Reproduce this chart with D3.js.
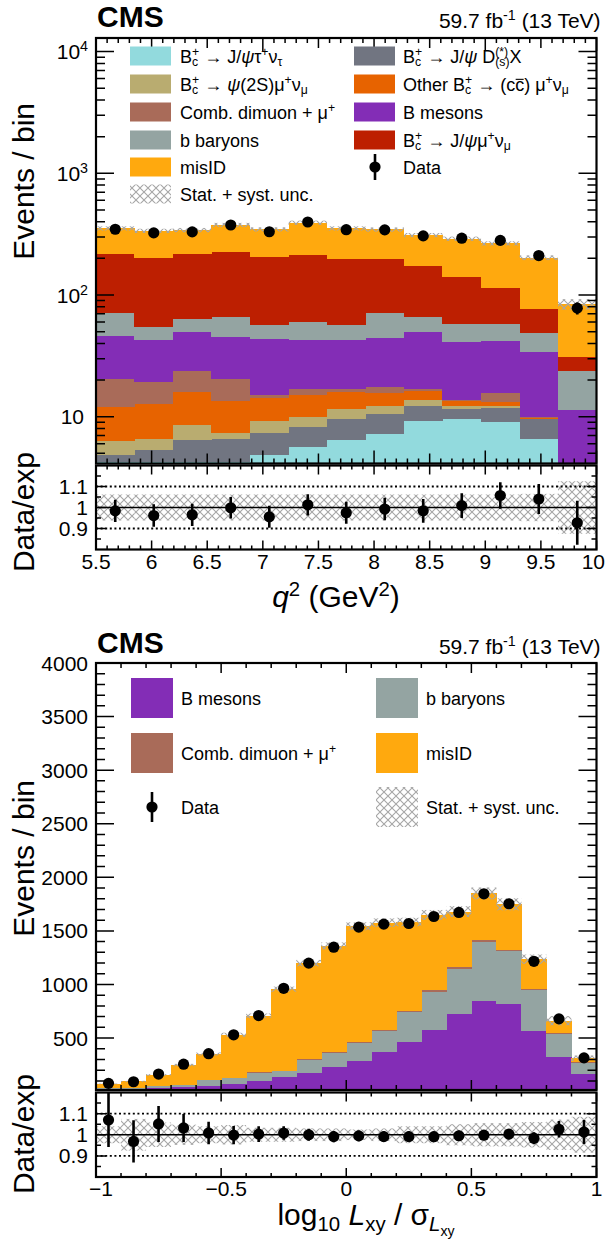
<!DOCTYPE html>
<html lang="en">
<head>
<meta charset="UTF-8">
<title>Bc fit projections</title>
<script src="https://d3js.org/d3.v7.min.js"></script>
<style>
  body { margin: 0; background: #fff; }
  svg { display: block; }
  text { font-family: "Liberation Sans", Arial, Helvetica, sans-serif; fill: #000; white-space: pre; }
</style>
</head>
<body>
<svg id="chart" width="606" height="1243"></svg>
<script>
// ---------- data: q^2 distribution (top) ----------
const q2Edges = [5.5, 5.846, 6.192, 6.538, 6.885, 7.231, 7.577, 7.923, 8.269, 8.615, 8.962, 9.308, 9.654, 10.0];
const q2Tau    = [4.22, 4.22, 4.22, 4.22, 4.84, 5.6, 6.45, 7.22, 9.22, 9.57, 9.0, 6.56, 0.9];
const q2Dsx    = [0.62, 1.10, 2.26, 2.38, 2.51, 2.68, 3.12, 3.38, 2.98, 2.03, 2.8, 2.94, 1.4];
const q2Psi2s  = [1.52, 1.28, 2.07, 0.79, 1.81, 1.60, 2.03, 1.60, 1.50, 0.70, 0.40, 0.05, 0.2];
const q2Other  = [5.64, 6.10, 7.55, 6.11, 5.14, 5.32, 4.50, 3.50, 2.60, 1.20, 1.10, 0.21, 0.3];
const q2Comb   = [8.4, 6.7, 7.7, 6.8, 0.8, 1.7, 0.8, 1.8, 0.6, 0.1, 2.5, 0.19, 0.6];
const q2Bmes   = [25.6, 23.3, 25.8, 24.9, 28.7, 26.1, 25.8, 27.1, 32.7, 27.7, 26.1, 24.05, 8.0];
const q2Bbar   = [25.6, 12.2, 14.3, 20.3, 12.6, 17.0, 14.0, 27.0, 16.3, 16.1, 15.9, 14.8, 12.4];
const q2Jpsimu = [145, 145, 153, 160, 149, 153, 141, 126, 108, 84, 56, 28, 7.3];
const q2Misid  = [136, 137, 125, 151, 141, 180, 155, 148, 137, 149, 152, 126, 53];
const q2Data    = [347, 324, 330, 376, 331, 398, 344, 343, 306, 293, 281, 211, 78];
const q2DataErr = [18.6, 18.0, 18.2, 19.4, 18.2, 19.9, 18.5, 18.5, 17.5, 17.1, 16.8, 14.5, 8.8];
const q2UncMain  = [0.04, 0.04, 0.04, 0.04, 0.04, 0.04, 0.04, 0.04, 0.04, 0.04, 0.04, 0.045, 0.10];
const q2UncRatio = [0.062, 0.062, 0.062, 0.062, 0.062, 0.062, 0.062, 0.062, 0.062, 0.062, 0.062, 0.065, 0.125];

// ---------- data: log10 Lxy/sigma distribution (bottom) ----------
const lxyEdges = [-1.0, -0.9, -0.8, -0.7, -0.6, -0.5, -0.4, -0.3, -0.2, -0.1, 0.0,
                  0.1, 0.2, 0.3, 0.4, 0.5, 0.6, 0.7, 0.8, 0.9, 1.0];
const lxyBmes  = [12, 25, 35, 44, 56, 75, 100, 134, 174, 230, 283, 367, 463, 575, 727, 848, 820, 562, 323, 168];
const lxyBbar  = [18, 10, 15, 15, 50, 50, 74, 56, 118, 134, 171, 198, 279, 357, 416, 552, 493, 388, 214, 99];
const lxyComb  = [1, 1, 1, 1, 3, 4, 6, 6, 8, 9, 9, 13, 13, 12, 18, 19, 10, 7, 7, 7];
const lxyMisid = [41, 59, 105, 188, 242, 402, 528, 760, 899, 987, 1080, 999, 828, 705, 519, 431, 425, 279, 118, 37];
const lxyData    = [77, 92, 164, 256, 354, 530, 710, 964, 1199, 1348, 1535, 1563, 1569, 1634, 1672, 1846, 1753, 1216, 679, 315];
const lxyDataErr = [9.2, 9.5, 13.3, 16.4, 18.8, 23, 26.6, 31, 34.6, 36.7, 39.2, 39.5, 39.6, 40.4, 40.9, 43, 41.9, 34.9, 26, 17.7];
const lxyUncMain  = [0.04, 0.06, 0.05, 0.045, 0.04, 0.035, 0.03, 0.025, 0.025, 0.024, 0.024, 0.025, 0.025, 0.028, 0.03, 0.03, 0.032, 0.035, 0.065, 0.085];
const lxyUncRatio = [0.04, 0.075, 0.058, 0.048, 0.04, 0.046, 0.033, 0.033, 0.03, 0.03, 0.025, 0.03, 0.04, 0.04, 0.05, 0.055, 0.055, 0.06, 0.072, 0.085];

const ratioTicks = [0.9, 1, 1.1];
const ratioMinor = [0.85, 0.95, 1.05, 1.15];
const lumiLabel = "59.7 fb";

// CMS palette
const colTau = "#92dadd", colDsx = "#717581", colPsi = "#b9ac70", colOther = "#e76300",
      colComb = "#a96b59", colBmes = "#832db6", colBbar = "#94a4a2", colJpsi = "#bd1f01", colMisid = "#ffa90e";

const svg = d3.select("#chart");
const FONT = '"Liberation Sans", Arial, Helvetica, sans-serif';
const W = 606;

// hatch used for the stat + syst band
svg.append("defs").append("pattern")
    .attr("id", "hatch").attr("width", 8).attr("height", 8)
    .attr("patternUnits", "userSpaceOnUse")
  .append("path")
    .attr("d", "M0,0 L8,8 M8,0 L0,8")
    .attr("stroke", "#a6a6a6").attr("stroke-width", 1.1);

// text measuring for super/subscripts
const mctx = document.createElement("canvas").getContext("2d");
function measure(s, size, italic, bold) {
    mctx.font = (italic ? "italic " : "") + (bold ? "bold " : "") + size + "px " + FONT;
    return mctx.measureText(s).width;
}

// parts: {t, lvl (1 sup, -1 sub, -2 subsub), it, stack (next part on same x), over}
function rich(g, x, y, parts, size, anchor) {
    const items = [];
    let cx = 0, stackX = null, stackW = 0;
    parts.forEach(p => {
        const lvl = p.lvl || 0;
        const s = lvl === 0 ? size : lvl === -2 ? size * 0.47 : size * 0.68;
        const dy = lvl === 1 ? -size * 0.38 : lvl === -1 ? size * 0.2 : lvl === -2 ? size * 0.36 : 0;
        const w = measure(p.t, s, p.it);
        if (stackX !== null) {
            items.push({ p, s, dy, x: stackX, w });
            cx = stackX + Math.max(stackW, w);
            stackX = null;
        } else if (p.stack) {
            items.push({ p, s, dy, x: cx, w });
            stackX = cx; stackW = w;
        } else {
            items.push({ p, s, dy, x: cx, w });
            cx += w;
        }
    });
    const off = anchor === "end" ? -cx : anchor === "middle" ? -cx / 2 : 0;
    const t = g.append("text").attr("font-size", size);
    items.forEach(it => {
        t.append("tspan")
            .attr("x", x + off + it.x).attr("y", y + it.dy)
            .attr("font-size", it.s)
            .attr("font-style", it.p.it ? "italic" : null)
            .text(it.p.t);
        if (it.p.over) {
            g.append("line")
                .attr("x1", x + off + it.x + 0.5).attr("x2", x + off + it.x + it.w - 0.5)
                .attr("y1", y - size * 0.62).attr("y2", y - size * 0.62)
                .attr("stroke", "#000").attr("stroke-width", 1.1);
        }
    });
    return cx;
}

const X0 = 96, X1 = 596.5;

function drawStack(g, x, y, edges, comps, floor) {
    const base = edges.slice(1).map(() => 0);
    comps.forEach(c => {
        const lo = base.slice();
        c.vals.forEach((v, i) => { base[i] += v; });
        const hi = base.slice();
        g.append("g").selectAll("rect").data(c.vals).join("rect")
            .attr("x", (d, i) => x(edges[i]))
            .attr("width", (d, i) => x(edges[i + 1]) - x(edges[i]) + 0.4)
            .attr("y", (d, i) => y(hi[i]))
            .attr("height", (d, i) => Math.max(0, y(Math.max(lo[i], floor)) - y(hi[i])))
            .attr("fill", c.color)
            .attr("shape-rendering", "crispEdges");
    });
    return base;
}

function drawBand(g, x, y, edges, centre, rel) {
    g.append("g").selectAll("rect").data(centre).join("rect")
        .attr("x", (d, i) => x(edges[i]))
        .attr("width", (d, i) => x(edges[i + 1]) - x(edges[i]))
        .attr("y", (d, i) => y(d * (1 + rel[i])))
        .attr("height", (d, i) => y(d * (1 - rel[i])) - y(d * (1 + rel[i])))
        .attr("fill", "url(#hatch)");
}

function drawPoints(g, xs, ys, errs, y) {
    g.append("g").selectAll("line").data(ys).join("line")
        .attr("x1", (d, i) => xs[i]).attr("x2", (d, i) => xs[i])
        .attr("y1", (d, i) => y(d + errs[i])).attr("y2", (d, i) => y(d - errs[i]))
        .attr("stroke", "#000").attr("stroke-width", 2.6);
    g.append("g").selectAll("circle").data(ys).join("circle")
        .attr("cx", (d, i) => xs[i]).attr("cy", d => y(d))
        .attr("r", 5.6).attr("fill", "#000");
}

function hTicks(g, x, vals, lenOf, yBot, yTop) {
    g.append("g").selectAll("path").data(vals).join("path")
        .attr("d", v => `M${x(v)},${yBot}V${yBot - lenOf(v)}M${x(v)},${yTop}V${yTop + lenOf(v)}`)
        .attr("stroke", "#000").attr("stroke-width", 1.5).attr("fill", "none");
}
function vTicks(g, y, vals, lenOf) {
    g.append("g").selectAll("path").data(vals).join("path")
        .attr("d", v => `M${X0},${y(v)}H${X0 + lenOf(v)}M${X1},${y(v)}H${X1 - lenOf(v)}`)
        .attr("stroke", "#000").attr("stroke-width", 1.5).attr("fill", "none");
}

function frame(g, yTop, yBot) {
    g.append("rect").attr("x", X0).attr("y", yTop).attr("width", X1 - X0).attr("height", yBot - yTop)
        .attr("fill", "none").attr("stroke", "#000").attr("stroke-width", 2.2);
}

// x tick labels, pulled in at the right edge so the last one stays on the page
function xLabels(g, x, vals, yBase) {
    vals.forEach(v => {
        const s = d3.format("")(v);
        const w = measure(s, 21);
        let cx = x(v) + (v < 0 ? 5 : 0);
        cx = Math.min(cx, W - 1 - w / 2);
        g.append("text").attr("x", cx).attr("y", yBase).attr("text-anchor", "middle")
            .attr("font-size", 21).text(s);
    });
}

function ratioPanel(g, x, rY, edges, rel, ratio, ratioErr, xTickVals, xLen, id) {
    g.append("clipPath").attr("id", id).append("rect")
        .attr("x", X0).attr("y", rY.range()[1]).attr("width", X1 - X0).attr("height", rY.range()[0] - rY.range()[1]);
    const inner = g.append("g").attr("clip-path", `url(#${id})`);
    drawBand(inner, x, rY, edges, edges.slice(1).map(() => 1), rel);
    inner.append("g").selectAll("line").data([0.9, 1.1]).join("line")
        .attr("x1", X0).attr("x2", X1).attr("y1", d => rY(d)).attr("y2", d => rY(d))
        .attr("stroke", "#000").attr("stroke-width", 1.8).attr("stroke-dasharray", "2,2.6");
    inner.append("line").attr("x1", X0).attr("x2", X1).attr("y1", rY(1)).attr("y2", rY(1))
        .attr("stroke", "#000").attr("stroke-width", 1.4);
    const centres = ratio.map((d, i) => x((edges[i] + edges[i + 1]) / 2));
    drawPoints(inner, centres, ratio, ratioErr, rY);
    frame(g, rY.range()[1], rY.range()[0]);
    vTicks(g, rY, ratioTicks, () => 10);
    vTicks(g, rY, ratioMinor, () => 5);
    hTicks(g, x, xTickVals, xLen, rY.range()[0], rY.range()[1]);
    ratioTicks.forEach(v => {
        g.append("text").attr("x", 88).attr("y", rY(v) + 7.5).attr("text-anchor", "end")
            .attr("font-size", 21).text(d3.format("")(v));
    });
}

function header(g, oy) {
    g.append("text").attr("x", 97).attr("y", 27 + oy).attr("font-size", 30)
        .attr("font-weight", "bold").text("CMS");
    rich(g, 601, 28 + oy, [{ t: lumiLabel }, { t: "-1", lvl: 1 }, { t: " (13 TeV)" }], 21, "end");
}

function yTitle(g, xBase, yEnd, label) {
    g.append("text").attr("transform", `translate(${xBase},${yEnd}) rotate(-90)`)
        .attr("text-anchor", "end").attr("font-size", 30).text(label);
}

function swatch(g, x, yc, w, h, fill) {
    g.append("rect").attr("x", x).attr("y", yc - h / 2).attr("width", w).attr("height", h).attr("fill", fill);
}
function legendDot(g, xc, yc, half) {
    g.append("line").attr("x1", xc).attr("x2", xc).attr("y1", yc - half).attr("y2", yc + half)
        .attr("stroke", "#000").attr("stroke-width", 2.6);
    g.append("circle").attr("cx", xc).attr("cy", yc).attr("r", 5.6).attr("fill", "#000");
}

const BcPlus = [{ t: "B" }, { t: "c", lvl: -1, stack: true }, { t: "+", lvl: 1 }];

// =================== top: q^2 ===================
{
    const g = svg.append("g");
    const x = d3.scaleLinear([5.5, 10], [X0, X1]);
    const y = d3.scaleLog([4.125, 12940], [463.5, 38]).clamp(true);
    const r = d3.scaleLinear([0.8, 1.2], [549.5, 465.5]);

    g.append("clipPath").attr("id", "clipA").append("rect")
        .attr("x", X0).attr("y", 38).attr("width", X1 - X0).attr("height", 463.5 - 38);
    const inner = g.append("g").attr("clip-path", "url(#clipA)");
    const total = drawStack(inner, x, y, q2Edges, [
        { vals: q2Tau, color: colTau }, { vals: q2Dsx, color: colDsx },
        { vals: q2Psi2s, color: colPsi }, { vals: q2Other, color: colOther },
        { vals: q2Comb, color: colComb }, { vals: q2Bmes, color: colBmes },
        { vals: q2Bbar, color: colBbar }, { vals: q2Jpsimu, color: colJpsi },
        { vals: q2Misid, color: colMisid }
    ], 4.125);
    drawBand(inner, x, y, q2Edges, total, q2UncMain);
    const centres = q2Data.map((d, i) => x((q2Edges[i] + q2Edges[i + 1]) / 2));
    drawPoints(inner, centres, q2Data, q2DataErr, y);

    frame(g, 38, 463.5);
    const yt = y.ticks();
    vTicks(g, y, yt, v => Number.isInteger(Math.log10(v)) ? 18 : 9);
    const xt = x.ticks(45);
    const xLen = v => Math.abs(v - Math.round(v)) < 1e-6 ? 13 : Math.abs(v * 2 - Math.round(v * 2)) < 1e-6 ? 10 : 5;
    hTicks(g, x, xt, xLen, 463.5, 38);
    yt.filter(v => Number.isInteger(Math.log10(v))).forEach(v => {
        const e = Math.round(Math.log10(v));
        if (e === 1) rich(g, 84, y(v) + 7.5, [{ t: "10" }], 21, "end");
        else rich(g, 88, y(v) + 7.5, [{ t: "10" }, { t: String(e), lvl: 1 }], 21, "end");
    });

    ratioPanel(g, x, r, q2Edges, q2UncRatio,
        q2Data.map((d, i) => d / total[i]), q2DataErr.map((d, i) => d / total[i]),
        xt, v => xLen(v) > 6 ? 9 : 4, "clipAr");

    xLabels(g, x, x.ticks(9), 569);
    rich(g, 336, 607, [{ t: "q", it: true }, { t: "2", lvl: 1 }, { t: " (GeV" }, { t: "2", lvl: 1 }, { t: ")" }], 30, "middle");
    yTitle(g, 34, 103, "Events / bin");
    yTitle(g, 34, 452, "Data/exp");
    header(g, 0);

    // legend
    const rows = [56, 84, 112, 140, 167, 194];
    const lg = g.append("g");
    const c1 = [
        [colTau, [...BcPlus, { t: " → J/" }, { t: "ψ", it: true }, { t: "τ" }, { t: "+", lvl: 1 }, { t: "ν" }, { t: "τ", lvl: -1 }]],
        [colPsi, [...BcPlus, { t: " → " }, { t: "ψ", it: true }, { t: "(2S)μ" }, { t: "+", lvl: 1 }, { t: "ν" }, { t: "μ", lvl: -1 }]],
        [colComb, [{ t: "Comb. dimuon + μ" }, { t: "+", lvl: 1 }]],
        [colBbar, [{ t: "b baryons" }]],
        [colMisid, [{ t: "misID" }]],
        ["url(#hatch)", [{ t: "Stat. + syst. unc." }]]
    ];
    c1.forEach((e, i) => {
        swatch(lg, 130, rows[i], 41, 19, e[0]);
        rich(lg, 180, rows[i] + 6.5, e[1], 18, "start");
    });
    const c2 = [
        [colDsx, [...BcPlus, { t: " → J/" }, { t: "ψ", it: true }, { t: " D" }, { t: "(s)", lvl: -1, stack: true }, { t: "(*)", lvl: 1 }, { t: "X" }]],
        [colOther, [{ t: "Other B" }, { t: "c", lvl: -1, stack: true }, { t: "+", lvl: 1 }, { t: " → (c" }, { t: "c", over: true }, { t: ") μ" }, { t: "+", lvl: 1 }, { t: "ν" }, { t: "μ", lvl: -1 }]],
        [colBmes, [{ t: "B mesons" }]],
        [colJpsi, [...BcPlus, { t: " → J/" }, { t: "ψ", it: true }, { t: "μ" }, { t: "+", lvl: 1 }, { t: "ν" }, { t: "μ", lvl: -1 }]],
        [null, [{ t: "Data" }]]
    ];
    c2.forEach((e, i) => {
        if (e[0]) swatch(lg, 354, rows[i], 41, 19, e[0]);
        else legendDot(lg, 375, rows[i], 13);
        rich(lg, 403, rows[i] + 6.5, e[1], 18, "start");
    });
}

// =================== bottom: log10 Lxy / sigma ===================
{
    const g = svg.append("g");
    const oy = 626;
    const x = d3.scaleLinear([-1, 1], [X0, X1]);
    const y = d3.scaleLinear([15, 4000], [1090, 663]);
    const r = d3.scaleLinear([0.8, 1.2], [1177, 1092.5]);

    g.append("clipPath").attr("id", "clipB").append("rect")
        .attr("x", X0).attr("y", 663).attr("width", X1 - X0).attr("height", 1090 - 663);
    const inner = g.append("g").attr("clip-path", "url(#clipB)");
    const total = drawStack(inner, x, y, lxyEdges, [
        { vals: lxyBmes, color: colBmes }, { vals: lxyBbar, color: colBbar },
        { vals: lxyComb, color: colComb }, { vals: lxyMisid, color: colMisid }
    ], 0);
    drawBand(inner, x, y, lxyEdges, total, lxyUncMain);
    const centres = lxyData.map((d, i) => x((lxyEdges[i] + lxyEdges[i + 1]) / 2));
    drawPoints(inner, centres, lxyData, lxyDataErr, y);

    frame(g, 663, 1090);
    vTicks(g, y, y.ticks(40), v => v % 500 === 0 ? 18 : 9);
    const xt = x.ticks(20);
    const xLen = v => Math.abs(v * 2 - Math.round(v * 2)) < 1e-6 ? 10 : 5;
    hTicks(g, x, xt, xLen, 1090, 663);
    y.ticks(8).forEach(v => {
        g.append("text").attr("x", 88).attr("y", y(v) + 7.5).attr("text-anchor", "end")
            .attr("font-size", 21).text(v);
    });

    ratioPanel(g, x, r, lxyEdges, lxyUncRatio,
        lxyData.map((d, i) => d / total[i]), lxyDataErr.map((d, i) => d / total[i]),
        xt, v => xLen(v) > 6 ? 9 : 4, "clipBr");

    xLabels(g, x, x.ticks(4), 1196);
    rich(g, 366, 1225, [{ t: "log" }, { t: "10", lvl: -1 }, { t: " " }, { t: "L", it: true }, { t: "xy", lvl: -1 },
        { t: " / σ" }, { t: "L", lvl: -1, it: true }, { t: "xy", lvl: -2 }], 30, "middle");
    yTitle(g, 34, 780, "Events / bin");
    yTitle(g, 34, 1074, "Data/exp");
    header(g, oy);

    const rows = [698, 753, 807];
    const lg = g.append("g");
    const entries = [
        [131, colBmes, [{ t: "B mesons" }]], [376, colBbar, [{ t: "b baryons" }]],
        [131, colComb, [{ t: "Comb. dimuon + μ" }, { t: "+", lvl: 1 }]], [376, colMisid, [{ t: "misID" }]],
        [131, null, [{ t: "Data" }]], [376, "url(#hatch)", [{ t: "Stat. + syst. unc." }]]
    ];
    entries.forEach((e, i) => {
        const yc = rows[Math.floor(i / 2)];
        if (e[1]) swatch(lg, e[0], yc, 42, 40, e[1]);
        else legendDot(lg, 152, yc, 15);
        rich(lg, e[0] + 50, yc + 6.5, e[2], 18, "start");
    });
}
</script>
</body>
</html>
